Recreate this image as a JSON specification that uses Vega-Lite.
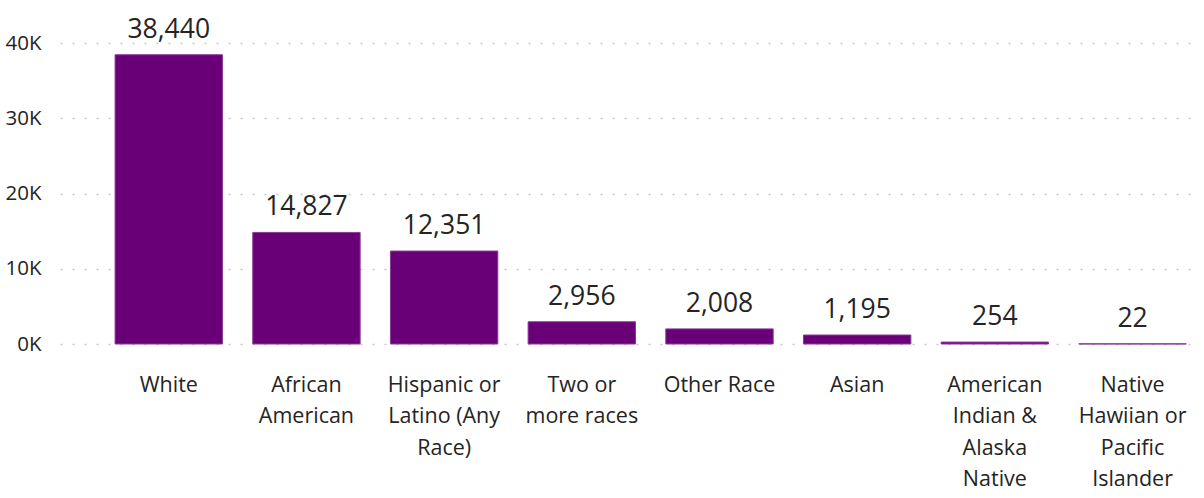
{
  "$schema": "https://vega.github.io/schema/vega-lite/v6.json",
  "autosize": "none",
  "width": 1140,
  "height": 301,
  "padding": {"left": 60, "top": 43, "right": 4, "bottom": 154},
  "background": "white",
  "config": {"view": {"stroke": null}, "font": "Open Sans"},
  "data": {
    "values": [
      {"race": "White", "count": 38440},
      {"race": "African American", "count": 14827},
      {"race": "Hispanic or Latino (Any Race)", "count": 12351},
      {"race": "Two or more races", "count": 2956},
      {"race": "Other Race", "count": 2008},
      {"race": "Asian", "count": 1195},
      {"race": "American Indian & Alaska Native", "count": 254},
      {"race": "Native Hawiian or Pacific Islander", "count": 22}
    ]
  },
  "encoding": {
    "x": {
      "field": "race",
      "type": "nominal",
      "sort": null,
      "scale": {"paddingInner": 0.22, "paddingOuter": 0.25, "align": 0.8},
      "axis": {
        "title": null,
        "domain": false,
        "ticks": false,
        "labelAngle": 0,
        "labelPadding": 30,
        "labelFontSize": 21.5,
        "labelLineHeight": 31.5,
        "labelColor": "#252423",
        "labelLimit": 300,
        "labelExpr": "{'White':['White'],'African American':['African','American'],'Hispanic or Latino (Any Race)':['Hispanic or','Latino (Any','Race)'],'Two or more races':['Two or','more races'],'Other Race':['Other Race'],'Asian':['Asian'],'American Indian & Alaska Native':['American','Indian &','Alaska','Native'],'Native Hawiian or Pacific Islander':['Native','Hawiian or','Pacific','Islander']}[datum.value]"
      }
    },
    "y": {
      "field": "count",
      "type": "quantitative",
      "scale": {"domain": [0, 40000], "nice": false},
      "axis": {
        "title": null,
        "domain": false,
        "ticks": false,
        "values": [0, 10000, 20000, 30000, 40000],
        "labelExpr": "datum.value/1000 + 'K'",
        "labelFontSize": 20.5,
        "labelColor": "#252423",
        "labelPadding": 19,
        "gridColor": "#C8C6C4",
        "gridDash": [2, 10],
        "gridWidth": 1.5
      }
    }
  },
  "layer": [
    {"mark": {"type": "bar", "color": "#6A0078", "stroke": "#8A3A96", "strokeWidth": 1}},
    {
      "mark": {"type": "text", "baseline": "bottom", "dy": -11, "fontSize": 26.5, "color": "#252423"},
      "encoding": {"text": {"field": "count", "type": "quantitative", "format": ","}}
    }
  ]
}
